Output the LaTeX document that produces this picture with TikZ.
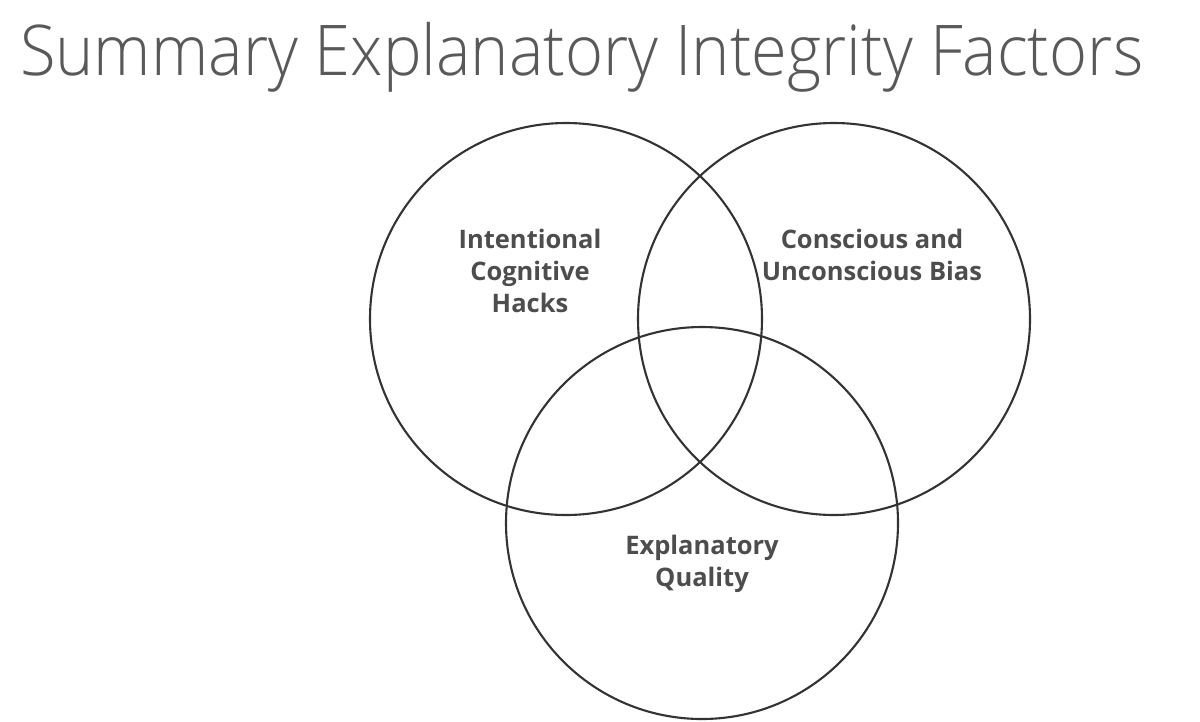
\documentclass[tikz,border=0pt]{standalone}
\usepackage{fontspec}
\setmainfont{Open Sans}
\newfontfamily\titlefont{Open Sans Light}
\definecolor{txt}{HTML}{4D4D4D}
\definecolor{ttl}{HTML}{595959}
\definecolor{ln}{HTML}{333333}
\begin{document}
\begin{tikzpicture}[x=1pt,y=-1pt,
  venn/.style={circle,draw=ln,line width=2.1pt,minimum size=392pt,inner sep=0pt},
  lbl/.style={text=txt,font=\bfseries\fontsize{25.5}{32}\selectfont,align=center,inner sep=0pt}]
\useasboundingbox (0,0) rectangle (1200,721);
\fill[white] (0,0) rectangle (1200,721);
\node[anchor=base west,inner sep=0pt,text=ttl,font=\titlefont\fontsize{70}{80}\selectfont] (title) at (20,75) {\scalebox{0.928}[1]{Summary Explanatory Integrity Factors}};
\node[venn] (c1) at (566,319) {};
\node[venn] (c2) at (834,319) {};
\node[venn] (c3) at (702,523) {};
\node[lbl] (l1) at (530,271) {Intentional\\Cognitive\\Hacks};
\node[lbl] (l2) at (872,255) {Conscious and\\Unconscious Bias};
\node[lbl] (l3) at (702,564) {Explanatory\\Quality};
\end{tikzpicture}
\end{document}
